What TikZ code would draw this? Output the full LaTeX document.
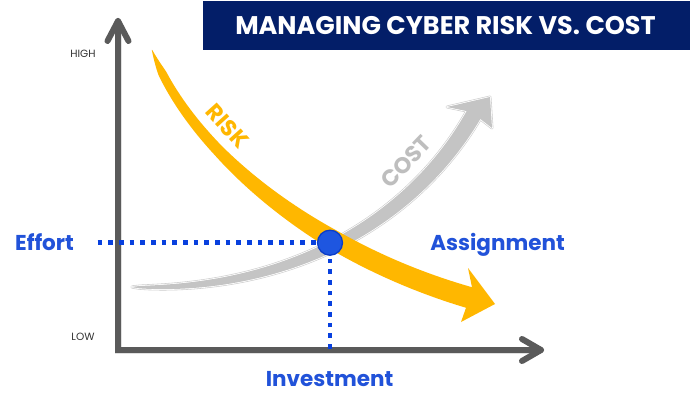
\documentclass[tikz,border=0pt]{standalone}
\usepackage{fontspec}
\setmainfont{Poppins}
\definecolor{navy}{RGB}{3,30,104}
\definecolor{axisgray}{RGB}{90,90,90}
\definecolor{riskc}{RGB}{255,183,0}
\definecolor{costc}{RGB}{196,196,196}
\definecolor{costtxt}{RGB}{190,190,190}
\definecolor{blueTxt}{RGB}{33,82,217}
\definecolor{blueDot}{RGB}{8,64,222}
\definecolor{blueFill}{RGB}{30,86,224}
\definecolor{blueEdge}{RGB}{10,60,200}
\definecolor{lowtxt}{RGB}{50,50,50}
\begin{document}
\begin{tikzpicture}[x=1pt,y=-1pt,
  axis/.style={draw=axisgray, line width=6pt, line cap=round, line join=round},
  lbl/.style={font=\bfseries\fontsize{21.5}{21.5}\selectfont, text=blueTxt, inner sep=0pt, anchor=base},
  small/.style={font=\fontsize{10.5}{10.5}\selectfont, text=lowtxt, inner sep=0pt, anchor=base},
  curvelbl/.style={font=\bfseries\fontsize{22.5}{22.5}\selectfont, inner sep=0pt},
  dotline/.style={draw=blueDot, line width=4.6pt, dash pattern=on 4.6pt off 6.07pt},
  helper/.style={sloped, inner sep=0pt, minimum width=0pt, draw=none, rectangle},
  costshape/.style={insert path={(c0.north) \foreach \i in {1,...,60} { -- (c\i.north) } -- (447,107) -- (490,97) -- (492,128) \foreach \i in {60,...,0} { -- (c\i.south) } -- cycle}}
]
\useasboundingbox (0,0) rectangle (692,398);
\fill[white] (0,0) rectangle (692,398);

% title
\node[fill=navy, minimum width=487pt, minimum height=49pt, inner sep=0pt, anchor=north west] (titlebox) at (203,1) {};
\node[font=\bfseries\fontsize{25.5}{25.5}\selectfont, text=white, inner sep=0pt, anchor=base] (title) at (445.5,35) {MANAGING CYBER RISK VS. COST};

% axes
\coordinate (O) at (118,350);
\coordinate (Ytip) at (118,21);
\coordinate (Xtip) at (541,350);
\coordinate (Ya) at (107.5,41);
\coordinate (Yb) at (128.5,41);
\coordinate (Xa) at (522,339);
\coordinate (Xb) at (522,361);
\draw[black, opacity=0.12, line width=7pt, shift={(2,3)}] (Ytip) -- (O) -- (Xtip);
\draw[axis, line join=miter] (Ytip) -- (O) -- (Xtip);
\draw[axis] (Ya) -- (Ytip) -- (Yb);
\draw[axis] (Xa) -- (Xtip) -- (Xb);

\node[small] (high) at (83,57.7) {HIGH};
\node[small] (low) at (83,340) {LOW};

% helper points along the cost curve
\foreach \i in {0,...,60} {
  \pgfmathsetmacro\t{\i/60}
  \pgfmathsetmacro\h{2*7.7*sqrt(\t)}
  \path (132,287) .. controls (292,291.8) and (413.5,219.4) .. (473.5,115)
    node[helper, pos=\t, minimum height=\h pt] (c\i) {};
}
% helper points along the risk curve
\foreach \i in {0,...,60} {
  \pgfmathsetmacro\t{\i/60}
  \pgfmathsetmacro\h{2*ifthenelse(\t<0.08, 50*\t, ifthenelse(\t<0.35, 4+5.556*(\t-0.08), ifthenelse(\t<0.7, 5.5+11.43*(\t-0.35), 9.5+3.333*(\t-0.7))))}
  \path (152,50) .. controls (187,144) and (305.8,249.9) .. (469,297.5)
    node[helper, pos=\t, minimum height=\h pt] (r\i) {};
}

% cost curve
\draw[gray!40, line width=2.8pt, line join=round, costshape];
\draw[white, line width=1.6pt, line join=round, costshape];
\fill[costc, costshape];

% risk curve
\fill[riskc] (r0.north) \foreach \i in {1,...,60} { -- (r\i.north) } -- (468,268) -- (495,304) -- (461,322) \foreach \i in {60,...,0} { -- (r\i.south) } -- cycle;

\node[curvelbl, text=riskc, rotate=-48] (risklbl) at (227.5,126) {RISK};
\node[curvelbl, text=costtxt, rotate=46] (costlbl) at (406,162) {COST};

% dotted guides
\coordinate (X) at (330,242.7);
\coordinate (hstart) at (97.7,242.7);
\coordinate (vstart) at (330,348.6);
\draw[dotline] (hstart) -- (X);
\draw[dotline] (vstart) -- (X);
\node[circle, fill=blueFill, draw=blueEdge, line width=1.3pt, minimum size=25pt, inner sep=0pt] (pt) at (X) {};

% labels
\node[lbl] (effort) at (44.5,250.7) {Effort};
\node[lbl] (assign) at (497.5,250.7) {Assignment};
\node[lbl] (invest) at (329.5,386.7) {Investment};
\end{tikzpicture}
\end{document}
